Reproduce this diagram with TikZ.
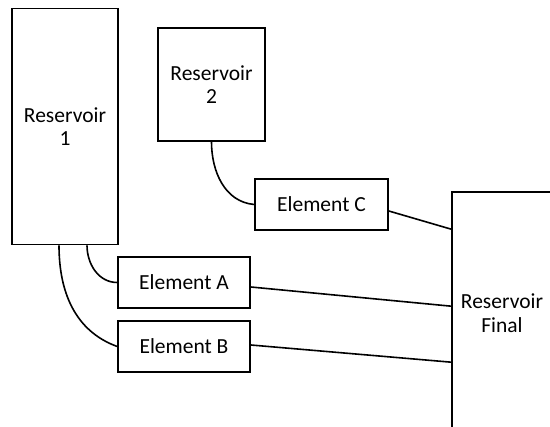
\documentclass[tikz,border=0pt]{standalone}
\usepackage{fontspec}
\setmainfont{Carlito}
\usepackage{tikz}
\tikzset{
    every node/.style={rectangle, draw, inner sep=0pt, align=center,
    	font=\fontsize{21.5}{23.5}\selectfont}
}

\begin{document}
\begin{tikzpicture}[x=1pt, y=1pt, line width=1.6pt]
  \useasboundingbox (0,0) rectangle (550,427);
  \clip (0,0) rectangle (550,427);
  \node (r_1) [minimum width=106pt, minimum height=236pt] at (65, 300.5) {Reservoir\\1};
  \node (r_2) [minimum width=107pt, minimum height=113pt] at (211.5, 342.5) {Reservoir\\2};
  \node (e_c) [minimum width=133pt, minimum height=51pt] at (321.5, 222.5) {Element C};
  \node (e_a) [minimum width=132pt, minimum height=51pt] at (184, 144.5) {Element A};
  \node (e_b) [minimum width=132pt, minimum height=51pt] at (184, 80.5) {Element B};
  \node (r_f) [minimum width=100pt, minimum height=242pt] at (502, 114) {Reservoir\\Final};

  \draw (r_2.south) edge [out=-90, in=175] (e_c.west);
  \draw ([xshift=22pt]r_1.south) edge [out=-90, in=180] (e_a.west);
  \draw ([xshift=-6pt]r_1.south) edge [out=-90, in=160] (e_b.west);
  \draw ([yshift=-6.5pt]e_c.east) edge ([yshift=-38pt]r_f.north west);
  \draw ([yshift=-4.5pt]e_a.east) edge ([yshift=-115pt]r_f.north west);
  \draw ([yshift=1.5pt]e_b.east) edge ([yshift=-171pt]r_f.north west);
\end{tikzpicture}
\end{document}
